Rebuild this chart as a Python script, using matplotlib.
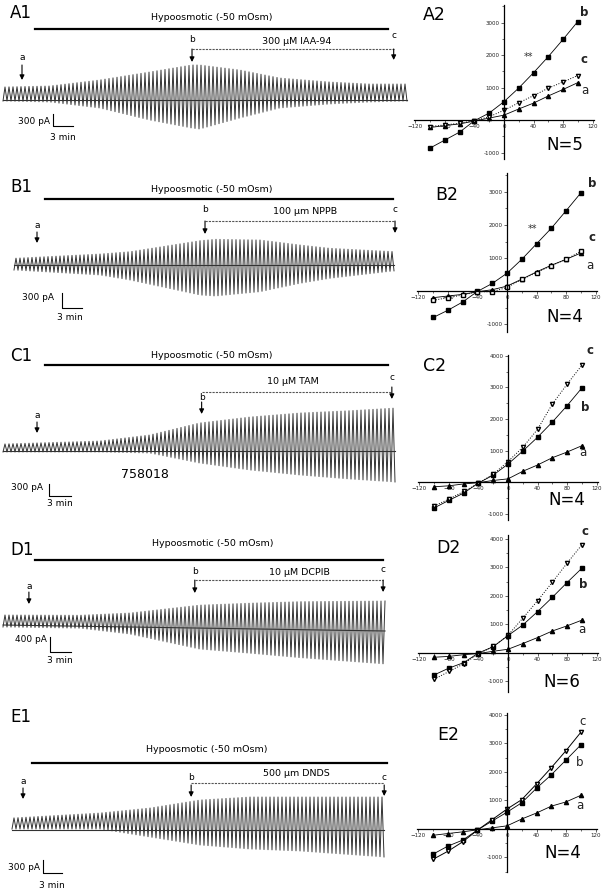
import numpy as np
import matplotlib.pyplot as plt
from matplotlib.ticker import MultipleLocator

# tamaño del lienzo en pixeles
W, H = 607, 892
fig = plt.figure(figsize=(W/100, H/100), dpi=100)

def px_axes(x0, y0, x1, y1):
    return fig.add_axes([x0/W, 1 - y1/H, (x1 - x0)/W, (y1 - y0)/H])

# ---------------- DATOS: registros (envolvente de las rampas) ----------------
# tiempo (min), pico superior (pA), pico inferior (pA)
a1_t = [0, 7, 14.5, 22, 28.3, 29.5, 35.5, 41.5, 49, 55, 60.6]
a1_up = [325, 350, 500, 700, 875, 875, 750, 550, 450, 400, 400]
a1_low = [-25, -50, -200, -500, -700, -725, -450, -200, -100, -50, -25]

b1_t = [0, 12.9, 17.4, 27.9, 30.2, 36.9, 42.9, 47.4, 57.2]
b1_up = [134, 220, 266, 486, 514, 500, 400, 334, 266]
b1_low = [-100, -200, -300, -600, -620, -534, -366, -266, -114]

c1_t = [0, 13.2, 20, 26.8, 33.7, 40.5, 47.3, 53.6]
c1_up = [175, 250, 400, 700, 850, 950, 1007, 1075]
c1_low = [-25, -25, -50, -300, -475, -600, -700, -775]

d1_t = [0, 11, 18.1, 28.1, 35.3, 42.4, 54.6]
d1_up = [267, 293, 373, 613, 686, 747, 800]
d1_low = [-53, -53, -187, -560, -650, -747, -880]
d1_base = [0, -160]

e1_t = [0, 13.9, 21.8, 29.7, 37.6, 45.5, 58.9]
e1_up = [276, 391, 506, 690, 759, 759, 759]
e1_low = [23, 23, -161, -345, -437, -483, -621]

# tiempos de los puntos a, b, c (min)
a1_abc = [2.85, 28.35, 58.6]
b1_abc = [3.45, 28.65, 57.15]
c1_abc = [4.64, 27.1, 53.05]
d1_abc = [3.7, 27.4, 54.3]
e1_abc = [1.74, 28.3, 58.8]

drogas = ['300 \u03bcM IAA-94', '100 \u03bcm NPPB', '10 \u03bcM TAM', '10 \u03bcM DCPIB', '500 \u03bcm DNDS']
escala_pA = [300, 300, 300, 400, 300]

# ---------------- DATOS: curvas I-V ----------------
volt = [-100, -80, -60, -40, -20, 0, 20, 40, 60, 80, 100]

a2_a = [-230, -170, -120, -30, 60, 150, 340, 520, 740, 940, 1150]
a2_b = [-860, -615, -370, -20, 215, 565, 985, 1455, 1950, 2480, 3030]
a2_c = [-200, -150, -100, -20, 100, 300, 530, 750, 980, 1170, 1370]

b2_a = [-200, -150, -100, -20, 40, 150, 360, 580, 780, 960, 1150]
b2_b = [-800, -580, -330, -10, 230, 540, 960, 1430, 1900, 2430, 2970]
b2_c = [-280, -200, -120, -20, -20, 110, 350, 560, 770, 960, 1200]

c2_a = [-150, -120, -60, -20, 50, 100, 340, 540, 770, 950, 1150]
c2_b = [-820, -580, -350, -30, 220, 570, 980, 1420, 1900, 2420, 2980]
c2_c = [-760, -540, -300, -40, 250, 650, 1100, 1670, 2470, 3100, 3700]

d2_a = [-150, -120, -60, -20, 60, 130, 330, 540, 770, 950, 1150]
d2_b = [-770, -530, -340, 0, 220, 610, 980, 1450, 1950, 2470, 2970]
d2_c = [-920, -650, -380, -30, 230, 620, 1220, 1830, 2480, 3150, 3790]

e2_a = [-220, -160, -100, -30, 40, 110, 350, 560, 800, 950, 1180]
e2_b = [-880, -600, -390, -35, 280, 590, 920, 1430, 1900, 2420, 2950]
e2_c = [-1060, -780, -450, -40, 330, 700, 1030, 1580, 2150, 2750, 3390]

n_celulas = [5, 4, 4, 6, 4]


# ---------------- REGISTROS ----------------
def registro(band, ppm, t0, cy, ppx, t, up, low, abc, geo, droga, bar_pA,
             nombre, base=None):
    y0, y1 = band
    ax = px_axes(0, y0, 412, y1)
    ax.set_xlim((0 - t0)/ppm, (412 - t0)/ppm)
    ax.set_ylim((cy - y1)*ppx, (cy - y0)*ppx)
    ax.axis('off')
    # rampas: un pico arriba y uno abajo por ciclo (periodo ~4 px)
    per = 4.0/ppm
    n = int(t[-1]/per)
    tt = np.arange(n + 1)*per
    th = tt + per/2
    ts = np.column_stack([tt, th]).ravel()
    ts = ts[ts <= t[-1]]
    env_up = np.interp(ts, t, up)
    env_lo = np.interp(ts, t, low)
    yy = np.where(np.arange(len(ts)) % 2 == 0, env_lo, env_up)
    if base is None:
        bl = np.zeros_like(ts)
    else:
        bl = np.interp(ts, [t[0], t[-1]], base)
    ax.plot(ts, yy + bl, color='#333333', lw=0.7)
    ax.plot(ts, bl, color='#333333', lw=0.8)
    # barra hipoosmotica
    hx0, hx1, hy, htx, hty = geo['hypo']
    ax.plot([hx0, hx1], [hy, hy], color='k', lw=1.6)
    ax.text(htx, hty, 'Hypoosmotic (-50 mOsm)', ha='center', va='center', fontsize=6.8)
    # droga
    dy = geo['dash']
    ax.plot([abc[1], abc[2]], [dy, dy], color='#555555', lw=0.8, ls=(0, (2, 1)))
    ax.text(geo['dtext'][0], geo['dtext'][1], droga, ha='center', va='center', fontsize=6.8)
    # flechas y letras
    for k, lab in enumerate(['a', 'b', 'c']):
        ys, ye, ly = geo['arr'][k]
        ax.annotate('', xy=(abc[k], ye), xytext=(abc[k], ys),
                    arrowprops=dict(arrowstyle='-|>', color='k', lw=0.8,
                                    mutation_scale=7, shrinkA=0, shrinkB=0))
        ax.text(abc[k], ly, lab, ha='center', va='center', fontsize=6.5)
    # barra de escala
    sx, sy, tx, ty, mx, my = geo['scale']
    ax.plot([sx, sx, sx + 3], [sy + bar_pA, sy, sy], color='k', lw=0.8)
    ax.text(tx, ty, '%d pA' % bar_pA, ha='right', va='center', fontsize=6.5)
    ax.text(mx, my, '3 min', ha='center', va='center', fontsize=6.5)
    fig.text(geo['lab'][0]/W, 1 - geo['lab'][1]/H, nombre, fontsize=12,
             ha='left', va='center')
    return ax

geoA = dict(hypo=(4.8, 57.75, 1775, 31.35, 2075), dash=1275, dtext=(44.1, 1450),
            arr=[(875, 500, 1075), (1275, 950, 1500), (1275, 1000, 1600)],
            scale=(7.5, -650, 7.05, -525, 9.0, -925), lab=(10, 13))
registro((0, 180), 6.667, 3, 100, 25, a1_t, a1_up, a1_low, a1_abc, geoA,
         drogas[0], escala_pA[0], 'A1')

geoB = dict(hypo=(4.65, 56.85, 1320, 29.7, 1500), dash=880, dtext=(43.65, 1080),
            arr=[(660, 440, 800), (880, 620, 1120), (880, 640, 1120)],
            scale=(7.2, -860, 6.0, -640, 8.4, -1040), lab=(10, 187))
registro((180, 360), 6.667, 14, 265, 20, b1_t, b1_up, b1_low, b1_abc, geoB,
         drogas[1], escala_pA[1], 'B1')

geoC = dict(hypo=(5.73, 52.5, 2150, 28.5, 2400), dash=1475, dtext=(39.6, 1750),
            arr=[(725, 450, 875), (1225, 925, 1350), (1600, 1300, 1825)],
            scale=(6.27, -1125, 5.45, -925, 7.8, -1300), lab=(10, 356))
axC = registro((340, 540), 7.33, 3, 451, 25, c1_t, c1_up, c1_low, c1_abc, geoC,
               drogas[2], escala_pA[2], 'C1')
axC.text(19.4, -575, '758018', ha='center', va='center', fontsize=9)

geoD = dict(hypo=(4.57, 54.3, 1733, 29.9, 2187), dash=1200, dtext=(42.4, 1413),
            arr=[(880, 560, 1040), (1200, 853, 1440), (1200, 880, 1493)],
            scale=(6.71, -720, 6.29, -400, 8.14, -960), lab=(10, 550))
registro((530, 720), 7.0, 3, 625, 26.7, d1_t, d1_up, d1_low, d1_abc, geoD,
         drogas[3], escala_pA[3], 'D1', base=d1_base)

geoE = dict(hypo=(3.16, 59.2, 1541, 30.8, 1840), dash=1081, dtext=(45, 1311),
            arr=[(966, 713, 1127), (1035, 759, 1219), (1035, 782, 1219)],
            scale=(4.9, -989, 4.42, -851, 6.3, -1265), lab=(10, 717))
registro((705, 892), 6.33, 12, 830, 23, e1_t, e1_up, e1_low, e1_abc, geoE,
         drogas[4], escala_pA[4], 'E1')


# ---------------- CURVAS I-V ----------------
def curva_iv(box, ylim, ya, yb, yc, c_mark, c_ls, nombre, n, pos, negrita, ytop):
    ax = px_axes(*box)
    ax.set_xlim(-122, 122)
    ax.set_ylim(*ylim)
    for s in ['top', 'right']:
        ax.spines[s].set_visible(False)
    ax.spines['left'].set_position(('data', 0))
    ax.spines['bottom'].set_position(('data', 0))
    ax.spines['left'].set_linewidth(0.9)
    ax.spines['bottom'].set_linewidth(0.9)
    ax.set_xticks([-120, -80, -40, 0, 40, 80, 120])
    ax.set_yticks(list(range(-1000, ytop + 1, 1000)))
    ax.set_yticklabels(['-1000' if v < 0 else ('' if v == 0 else str(v))
                        for v in range(-1000, ytop + 1, 1000)])
    ax.xaxis.set_minor_locator(MultipleLocator(20))
    ax.yaxis.set_minor_locator(MultipleLocator(500))
    ax.tick_params(which='major', length=2, width=0.5, labelsize=4, pad=1,
                   direction='out', colors='#222222')
    ax.tick_params(which='minor', length=1.2, width=0.4, direction='out')
    ax.patch.set_alpha(0)
    ax.plot(volt, ya, '-^', color='k', ms=3, lw=0.6)
    ax.plot(volt, yb, '-s', color='k', ms=2.3, lw=0.6)
    ax.plot(volt, yc, marker=c_mark, ls=c_ls, color='k', mfc='white', ms=3,
            lw=0.7)
    fw = 'bold' if negrita else 'normal'
    ax.text(pos['b'][0], pos['b'][1], 'b', fontsize=8.5, fontweight=fw,
            ha='center', va='center', color='#222222', clip_on=False)
    ax.text(pos['c'][0], pos['c'][1], 'c', fontsize=8.5, fontweight=fw,
            ha='center', va='center', color='#222222', clip_on=False)
    ax.text(pos['a'][0], pos['a'][1], 'a', fontsize=8.5,
            ha='center', va='center', color='#222222', clip_on=False)
    if 'st' in pos:
        ax.text(pos['st'][0], pos['st'][1], '**', fontsize=7,
                ha='center', va='center', color='#333333')
    ax.text(pos['n'][0], pos['n'][1], 'N=%d' % n, fontsize=12,
            ha='center', va='center')
    ax.text(pos['lab'][0], pos['lab'][1], nombre, fontsize=12.5,
            ha='center', va='center')
    return ax

curva_iv((414, 5, 594, 159), (-1200, 3540), a2_a, a2_b, a2_c, 'v', ':', 'A2',
         n_celulas[0], dict(b=(109, 3320), c=(109, 1850), a=(109, 920),
                            st=(33, 1940), n=(82, -770), lab=(-94, 3230)),
         True, 3000)
curva_iv((417, 173, 597, 332), (-1240, 3575), b2_a, b2_b, b2_c, 's', ':', 'B2',
         n_celulas[1], dict(b=(115, 3270), c=(115, 1636), a=(112, 788),
                            st=(35, 1880), n=(79, -788), lab=(-81, 2900)),
         True, 3000)
curva_iv((418, 355, 598, 520), (-1205, 4030), c2_a, c2_b, c2_c, 'v', ':', 'C2',
         n_celulas[2], dict(b=(104, 2380), c=(111, 4180), a=(102, 950),
                            n=(80, -570), lab=(-99, 3680)),
         True, 4000)
curva_iv((418, 535, 598, 692), (-1370, 4140), d2_a, d2_b, d2_c, 'v', ':', 'D2',
         n_celulas[3], dict(b=(102, 2390), c=(104, 4250), a=(100, 840),
                            n=(73, -1020), lab=(-81, 3690)),
         True, 4000)
curva_iv((417, 713, 597, 872), (-1510, 4070), e2_a, e2_b, e2_c, 'v', '-', 'E2',
         n_celulas[4], dict(b=(99, 2350), c=(103, 3760), a=(99, 840),
                            n=(75, -840), lab=(-80, 3300)),
         False, 4000)

fig.savefig('out.png', dpi=100)
